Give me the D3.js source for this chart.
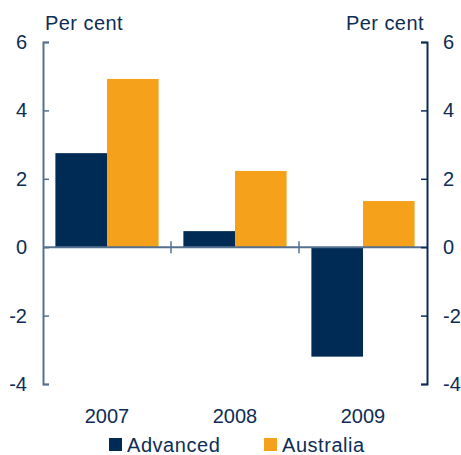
<!DOCTYPE html>
<html>
<head>
<meta charset="utf-8">
<script src="https://cdn.jsdelivr.net/npm/d3@7"></script>
<style>
  body { margin: 0; background: #fff; }
  text { font-family: Arial, "Liberation Sans", Helvetica, sans-serif; }
</style>
</head>
<body>
<div id="chart"></div>
<script>
// data
const years = ["2007", "2008", "2009"];
const seriesNames = ["Advanced", "Australia"];
const advanced = [2.75, 0.47, -3.2];
const australia = [4.92, 2.23, 1.35];
const yTicks = [-4, -2, 0, 2, 4, 6];

const colors = { Advanced: "#002b54", Australia: "#f5a11c" };
const textColor = "#0d2d55";
const axisLight = "#56718f";

const width = 461, height = 455;
const margin = { top: 42, right: 34, bottom: 71, left: 43 };

const svg = d3.select("#chart")
  .append("svg")
  .attr("width", width)
  .attr("height", height);

const x = d3.scaleBand()
  .domain(years)
  .range([margin.left, width - margin.right])
  .paddingInner(0)
  .paddingOuter(0);

const xs = d3.scaleBand()
  .domain(seriesNames)
  .range([0, x.bandwidth()])
  .paddingInner(0)
  .paddingOuter(0.24);

const y = d3.scaleLinear()
  .domain([-4, 6])
  .range([height - margin.bottom, margin.top]);

const rows = years.map((yr, i) => ({ year: yr, Advanced: advanced[i], Australia: australia[i] }));

// bars
const groups = svg.append("g").selectAll("g")
  .data(rows)
  .join("g")
  .attr("transform", d => `translate(${x(d.year)},0)`);

groups.selectAll("rect")
  .data(d => seriesNames.map(s => ({ key: s, value: d[s] })))
  .join("rect")
  .attr("x", d => xs(d.key))
  .attr("width", xs.bandwidth())
  .attr("y", d => y(Math.max(0, d.value)))
  .attr("height", d => Math.abs(y(d.value) - y(0)))
  .attr("fill", d => colors[d.key]);

// zero line
svg.append("line")
  .attr("x1", margin.left)
  .attr("x2", width - margin.right)
  .attr("y1", y(0))
  .attr("y2", y(0))
  .attr("stroke", axisLight)
  .attr("stroke-width", 2);

// separator ticks between years
svg.append("g").selectAll("line")
  .data(years.slice(1))
  .join("line")
  .attr("x1", d => x(d))
  .attr("x2", d => x(d))
  .attr("y1", y(0) - 6)
  .attr("y2", y(0) + 6)
  .attr("stroke", axisLight)
  .attr("stroke-width", 1.5);

const fmt = d => String(d); // plain hyphen for negatives

// left axis
const leftAxis = svg.append("g")
  .attr("transform", `translate(${margin.left},0)`)
  .call(d3.axisLeft(y).tickValues(yTicks).tickSize(-6).tickPadding(16).tickFormat(fmt));
leftAxis.select(".domain").attr("stroke", axisLight).attr("stroke-width", 2);
leftAxis.selectAll(".tick line").attr("stroke", axisLight).attr("stroke-width", 1.5);

// right axis
const rightAxis = svg.append("g")
  .attr("transform", `translate(${width - margin.right},0)`)
  .call(d3.axisRight(y).tickValues(yTicks).tickSize(-6).tickPadding(16).tickFormat(fmt));
rightAxis.select(".domain").attr("stroke", textColor).attr("stroke-width", 2);
rightAxis.selectAll(".tick line").attr("stroke", textColor).attr("stroke-width", 1.5);

svg.selectAll(".tick text")
  .attr("fill", textColor)
  .style("font-size", "20px")
  .style("font-family", "Arial, 'Liberation Sans', sans-serif");

// units
svg.append("text")
  .attr("x", margin.left + 2)
  .attr("y", 30)
  .attr("fill", textColor)
  .style("font-size", "20px")
  .style("letter-spacing", "0.45px")
  .text("Per cent");

svg.append("text")
  .attr("x", width - margin.right - 3)
  .attr("y", 30)
  .attr("text-anchor", "end")
  .attr("fill", textColor)
  .style("font-size", "20px")
  .style("letter-spacing", "0.45px")
  .text("Per cent");

// year labels
svg.append("g").selectAll("text")
  .data(years)
  .join("text")
  .attr("x", d => x(d) + x.bandwidth() / 2)
  .attr("y", 423)
  .attr("text-anchor", "middle")
  .attr("fill", textColor)
  .style("font-size", "20px")
  .text(d => d);

// legend
const legendX = [109, 264];
const legend = svg.append("g").selectAll("g")
  .data(seriesNames)
  .join("g")
  .attr("transform", (d, i) => `translate(${legendX[i]},438)`);

legend.append("rect")
  .attr("width", 13)
  .attr("height", 13)
  .attr("fill", d => colors[d]);

legend.append("text")
  .attr("x", 18)
  .attr("y", 13.5)
  .attr("fill", textColor)
  .style("font-size", "20px")
  .style("letter-spacing", "0.55px")
  .text(d => d);
</script>
</body>
</html>
